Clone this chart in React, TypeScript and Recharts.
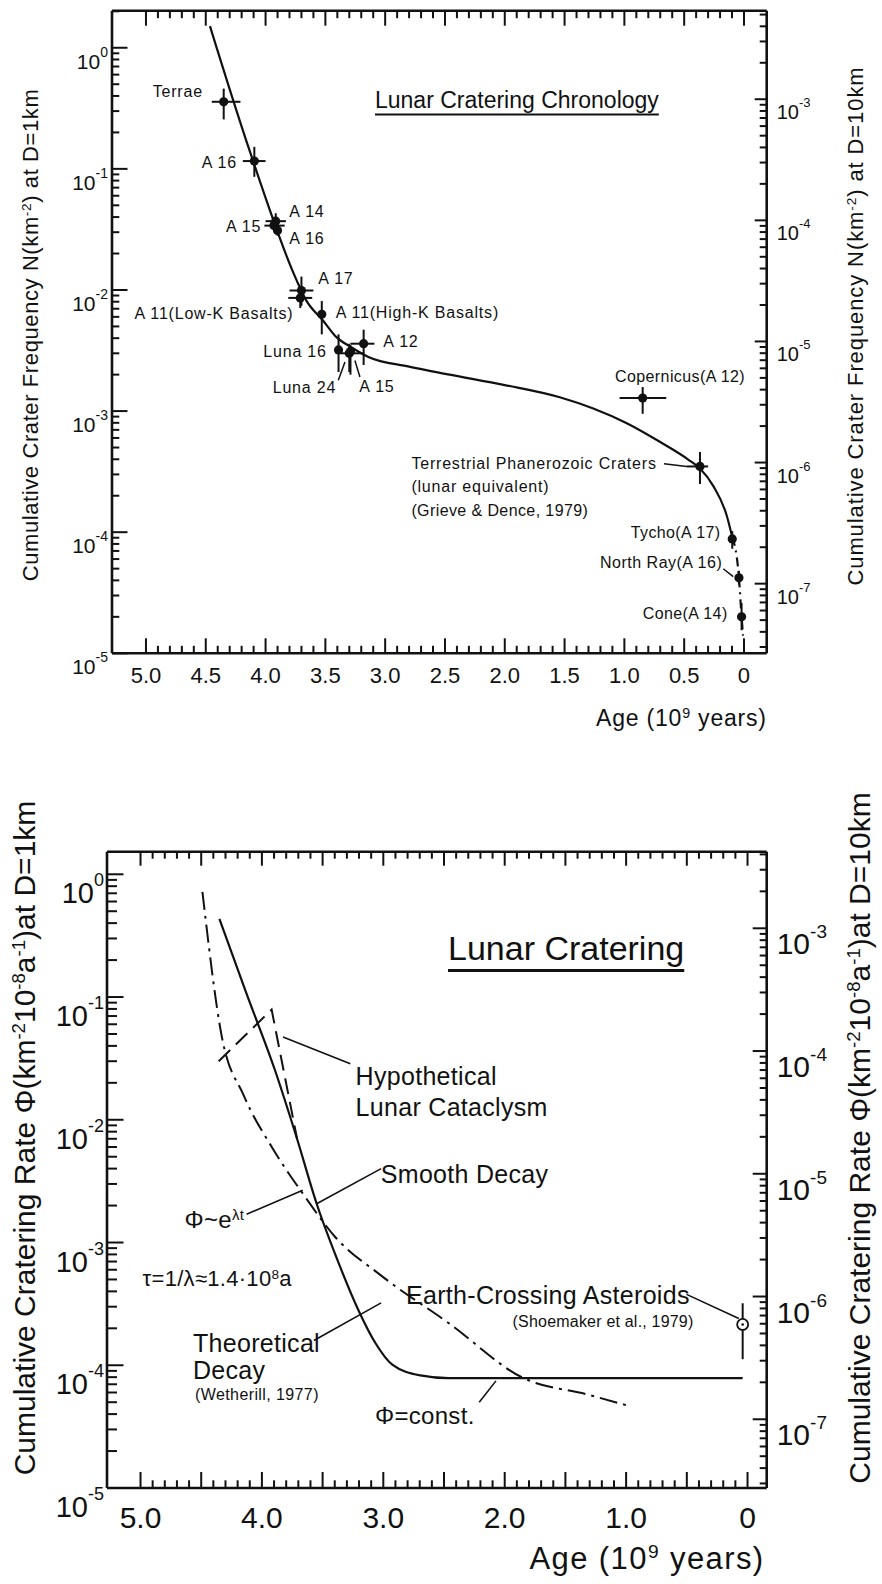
import React from 'react'
import { ComposedChart, Line, Scatter, ErrorBar, XAxis, YAxis, ReferenceLine } from 'recharts'

const FONT = '"Liberation Sans", Arial, sans-serif'
const INK = '#111'

// ---------- top panel: cumulative crater frequency N (km^-2) at D = 1 km ----------
const sampleNames = ['Terrae', 'A 16', 'A 14', 'A 15', 'A 16 b', 'A 17', 'A 11 low-K', 'A 11 high-K', 'Luna 16', 'Luna 24', 'A 15 b', 'A 12', 'Copernicus', 'Terrestrial', 'Tycho', 'North Ray', 'Cone']
const sampleAge = [4.35, 4.094, 3.915, 3.93, 3.9, 3.7, 3.71, 3.53, 3.39, 3.3, 3.29, 3.18, 0.847, 0.368, 0.098, 0.042, 0.02]
const sampleAgeMin = [4.21, 4.0, 3.83, 3.84, 3.9, 3.6, 3.61, 3.53, 3.39, 3.18, 3.29, 3.09, 0.65, 0.3, 0.098, 0.042, 0.02]
const sampleAgeMax = [4.45, 4.19, 4.0, 4.01, 3.9, 3.8, 3.81, 3.53, 3.39, 3.375, 3.29, 3.29, 1.04, 0.48, 0.098, 0.042, 0.02]
const sampleN = [0.358, 0.116, 0.037, 0.034, 0.031, 0.0099, 0.0086, 0.0063, 0.0032, 0.003, 0.0031, 0.0036, 0.00128, 0.000349, 0.000088, 0.000042, 0.00002]
const sampleNLo = [0.256, 0.086, 0.03, 0.034, 0.028, 0.0074, 0.0071, 0.0043, 0.0021, 0.0021, 0.002, 0.0024, 0.00095, 0.00025, 0.000073, 0.000037, 0.0000155]
const sampleNHi = [0.46, 0.152, 0.043, 0.034, 0.035, 0.0129, 0.01, 0.0081, 0.0043, 0.0036, 0.0035, 0.0047, 0.00158, 0.00046, 0.000102, 0.000048, 0.000026]

const chronoCurveAge = [4.465, 4.13, 3.74, 3.66, 3.52, 3.41, 3.29, 3.14, 2.8, 2.46, 2.0, 1.54, 1.26, 0.98, 0.7, 0.466, 0.368, 0.256, 0.145, 0.098]
const chronoCurveN = [1.51, 0.138, 0.012, 0.0082, 0.0056, 0.0041, 0.0034, 0.0028, 0.00233, 0.002, 0.00164, 0.0013, 0.00105, 0.000794, 0.000555, 0.000398, 0.000335, 0.00024, 0.000138, 0.0000912]
const chronoTailAge = [0.098, 0.042, 0.02, 0.008]
const chronoTailN = [0.0000912, 0.000042, 0.00002, 0.000014]

// ---------- bottom panel: cratering rate ----------
const smoothAge = [4.35, 4.126, 3.895, 3.71, 3.549, 3.387, 3.202, 3.064, 2.926, 2.695, 2.464, 0.04]
const smoothRate = [0.433, 0.106, 0.0258, 0.00697, 0.00207, 0.00076, 0.000277, 0.000151, 0.000101, 0.0000826, 0.0000785, 0.0000785]
const cataclysmAge = [4.356, 3.92, 3.71]
const cataclysmRate = [0.03, 0.079, 0.00697]
const theoryAge = [4.49, 4.33, 4.15, 3.9, 3.65, 3.4, 3.02, 2.46, 1.85, 1.31, 0.99]
const theoryRate = [0.72, 0.0474, 0.0158, 0.0056, 0.0024, 0.00112, 0.00054, 0.00022, 0.000079, 0.0000575, 0.000047]
const asteroidAge = [0.04]
const asteroidRate = [0.000215]
const asteroidLo = [0.000112]
const asteroidHi = [0.00032]

// leader lines [age, value] pairs
const topLeaders = [
  [[3.392, 0.0018], [3.336, 0.00254]],
  [[3.211, 0.00191], [3.253, 0.00262]],
  [[0.669, 0.000367], [0.479, 0.000349]],
  [[0.173, 0.0000499], [0.09, 0.000043]],
]
const bottomLeaders = [
  [[3.826, 0.0472], [3.272, 0.0286]],
  [[3.549, 0.00207], [3.018, 0.004]],
  [[4.126, 0.0017], [3.664, 0.00267]],
  [[3.572, 0.000159], [3.018, 0.000322]],
  [[2.21, 0.00005], [2.072, 0.0000746]],
  [[0.502, 0.000378], [0.072, 0.00024]],
]

const topLabelAges = [5, 4.5, 4, 3.5, 3, 2.5, 2, 1.5, 1, 0.5, 0]
const bottomLabelAges = [5, 4, 3, 2, 1, 0]

const minorAges = Array.from({ length: 51 }, (_, i) => Math.round(i) / 10)

const logTicks = (lo: number, hi: number) => {
  const out: number[] = []
  for (let e = -9; e <= 1; e++) for (let m = 1; m < 10; m++) {
    const v = m * Math.pow(10, e)
    if (v >= lo * 0.999 && v <= hi * 1.001) out.push(v)
  }
  return out
}

const zip = (age: number[], vals: number[]) => age.map((a, i) => ({ age: a, n: vals[i] }))

const samples = sampleNames.map((name, i) => ({
  name,
  age: sampleAge[i],
  n: sampleN[i],
  xErr: [sampleAge[i] - sampleAgeMin[i], sampleAgeMax[i] - sampleAge[i]],
  yErr: [sampleN[i] - sampleNLo[i], sampleNHi[i] - sampleN[i]],
}))
const asteroids = asteroidAge.map((a, i) => ({
  age: a,
  n: asteroidRate[i],
  yErr: [asteroidRate[i] - asteroidLo[i], asteroidHi[i] - asteroidRate[i]],
}))

const TOP_N = [1e-5, Math.pow(10, 0.306)]
const TOP_N10 = [Math.pow(10, -7.575), Math.pow(10, -2.269)]
const TOP_AGE = [-0.19, 5.284]
const BOT_N = [1e-5, Math.pow(10, 0.184)]
const BOT_N10 = [Math.pow(10, -7.56), Math.pow(10, -2.376)]
const BOT_AGE = [-0.158, 5.276]

const isDecade = (v: number) => {
  const l = Math.log10(v)
  return Math.abs(l - Math.round(l)) < 1e-6
}

type YT = { major: number; minor: number; fs: number; sfs: number; dx: number; dy: number; sdy: number }
const yTick = (side: 'left' | 'right', o: YT) => (p: any) => {
  const v = p.payload.value
  const dec = isDecade(v)
  const dir = side === 'left' ? 1 : -1
  const e = Math.round(Math.log10(v))
  return (
    <g>
      <line x1={p.x} y1={p.y} x2={p.x + dir * (dec ? o.major : o.minor)} y2={p.y} stroke={INK} strokeWidth={2} />
      {dec && (
        <text x={side === 'left' ? p.x - o.dx : p.x + o.dx} y={p.y + o.dy} textAnchor={side === 'left' ? 'end' : 'start'} fontSize={o.fs} fontFamily={FONT} fill={INK}>
          <tspan>10</tspan>
          <tspan dy={o.sdy} fontSize={o.sfs}>{e === 0 ? '0' : String(e)}</tspan>
        </text>
      )}
    </g>
  )
}

type XT = { major: number; minor: number; fs: number; dy: number; labels: number[] | null; fmt: (v: number) => string }
const xTick = (side: 'top' | 'bottom', o: XT) => (p: any) => {
  const v = p.payload.value
  const maj = Math.abs(v * 2 - Math.round(v * 2)) < 1e-6
  const dir = side === 'bottom' ? -1 : 1
  const lab = o.labels && o.labels.some((l) => Math.abs(l - v) < 1e-6)
  return (
    <g>
      <line x1={p.x} y1={p.y} x2={p.x} y2={p.y + dir * (maj ? o.major : o.minor)} stroke={INK} strokeWidth={2} />
      {lab && (
        <text x={p.x} y={p.y + o.dy} textAnchor="middle" fontSize={o.fs} fontFamily={FONT} fill={INK}>
          {o.fmt(v)}
        </text>
      )}
    </g>
  )
}

const dot = (r: number) => (p: any) => <circle cx={p.cx} cy={p.cy} r={r} fill={INK} />
const openDot = (p: any) => (
  <g>
    <circle cx={p.cx} cy={p.cy} r={5.5} fill="#fff" stroke={INK} strokeWidth={1.8} />
    <circle cx={p.cx} cy={p.cy} r={1.3} fill={INK} />
  </g>
)

const Note = ({ x, y, size = 16, ls = 0.8, anchor = 'start', style, children }: any) => (
  <div
    style={{
      position: 'absolute',
      left: x,
      top: y,
      transform: `translate(${anchor === 'end' ? '-100%' : '0'}, -50%)`,
      fontSize: size,
      letterSpacing: ls,
      whiteSpace: 'nowrap',
      lineHeight: 1,
      ...style,
    }}
  >
    {children}
  </div>
)

const VTitle = ({ x, y, size, ls = 0, children }: any) => (
  <div
    style={{
      position: 'absolute',
      left: x,
      top: y,
      transform: 'translate(-50%, -50%) rotate(-90deg)',
      fontSize: size,
      letterSpacing: ls,
      whiteSpace: 'nowrap',
      lineHeight: 1,
    }}
  >
    {children}
  </div>
)

const frame = { stroke: INK, strokeWidth: 2.6 }
const sup = (s: string, f = 0.62) => <sup style={{ fontSize: `${f}em`, verticalAlign: '0.55em', lineHeight: 0 }}>{s}</sup>

export default function App() {
  const fmt = (v: number) => (v === 0 ? '0' : v.toFixed(1))
  return (
    <div style={{ position: 'absolute', left: 0, top: 0, width: 882, height: 1584, background: '#fff', fontFamily: FONT, color: INK }}>
      <div style={{ position: 'absolute', left: 0, top: 0 }}>
        <ComposedChart width={882} height={740} margin={{ top: 9.7, right: 55.3, bottom: 46.7, left: 52 }}>
          <XAxis xAxisId="bottom" dataKey="age" type="number" domain={TOP_AGE} reversed allowDataOverflow ticks={minorAges} interval={0} tickSize={0} tickMargin={0} tickLine={false} axisLine={frame} height={40}
            tick={xTick('bottom', { major: 15, minor: 7.5, fs: 22, dy: 30, labels: topLabelAges, fmt })} />
          <XAxis xAxisId="top" orientation="top" dataKey="age" type="number" domain={TOP_AGE} reversed allowDataOverflow ticks={minorAges} interval={0} tickSize={0} tickMargin={0} tickLine={false} axisLine={frame} height={1}
            tick={xTick('top', { major: 15, minor: 7.5, fs: 22, dy: 0, labels: null, fmt })} />
          <YAxis yAxisId="left" type="number" scale="log" domain={TOP_N} allowDataOverflow ticks={logTicks(TOP_N[0], TOP_N[1])} interval={0} tickSize={0} tickMargin={0} tickLine={false} axisLine={frame} width={60}
            tick={yTick('left', { major: 15.5, minor: 7.3, fs: 21, sfs: 14, dx: 4, dy: 21, sdy: -12 })} />
          <YAxis yAxisId="right" orientation="right" type="number" scale="log" domain={TOP_N10} allowDataOverflow ticks={logTicks(TOP_N10[0], TOP_N10[1])} interval={0} tickSize={0} tickMargin={0} tickLine={false} axisLine={frame} width={60}
            tick={yTick('right', { major: 12, minor: 7, fs: 20, sfs: 13, dx: 10, dy: 20, sdy: -12 })} />
          <Line xAxisId="bottom" yAxisId="left" data={zip(chronoCurveAge, chronoCurveN)} dataKey="n" type="monotone" stroke={INK} strokeWidth={2.2} dot={false} activeDot={false} isAnimationActive={false} />
          <Line xAxisId="bottom" yAxisId="left" data={zip(chronoTailAge, chronoTailN)} dataKey="n" type="monotone" stroke={INK} strokeWidth={2.2} strokeDasharray="9 5 2 5" dot={false} activeDot={false} isAnimationActive={false} />
          <Scatter xAxisId="bottom" yAxisId="left" data={samples} dataKey="n" shape={dot(4.6)} isAnimationActive={false}>
            <ErrorBar dataKey="xErr" direction="x" width={0} stroke={INK} strokeWidth={2} />
            <ErrorBar dataKey="yErr" direction="y" width={0} stroke={INK} strokeWidth={2} />
          </Scatter>
          {topLeaders.map((s, i) => (
            <ReferenceLine key={i} xAxisId="bottom" yAxisId="left" segment={[{ x: s[0][0], y: s[0][1] }, { x: s[1][0], y: s[1][1] }]} stroke={INK} strokeWidth={1.5} />
          ))}
        </ComposedChart>
      </div>

      <div style={{ position: 'absolute', left: 0, top: 740 }}>
        <ComposedChart width={882} height={844} margin={{ top: 110.7, right: 55.3, bottom: 56, left: 47 }}>
          <XAxis xAxisId="bottom" dataKey="age" type="number" domain={BOT_AGE} reversed allowDataOverflow ticks={minorAges} interval={0} tickSize={0} tickMargin={0} tickLine={false} axisLine={frame} height={40}
            tick={xTick('bottom', { major: 16, minor: 7.7, fs: 30, dy: 40, labels: bottomLabelAges, fmt })} />
          <XAxis xAxisId="top" orientation="top" dataKey="age" type="number" domain={BOT_AGE} reversed allowDataOverflow ticks={minorAges} interval={0} tickSize={0} tickMargin={0} tickLine={false} axisLine={frame} height={1}
            tick={xTick('top', { major: 14, minor: 7, fs: 30, dy: 0, labels: null, fmt })} />
          <YAxis yAxisId="left" type="number" scale="log" domain={BOT_N} allowDataOverflow ticks={logTicks(BOT_N[0], BOT_N[1])} interval={0} tickSize={0} tickMargin={0} tickLine={false} axisLine={frame} width={60}
            tick={yTick('left', { major: 16.5, minor: 10, fs: 29, sfs: 18, dx: 3, dy: 29, sdy: -17 })} />
          <YAxis yAxisId="right" orientation="right" type="number" scale="log" domain={BOT_N10} allowDataOverflow ticks={logTicks(BOT_N10[0], BOT_N10[1])} interval={0} tickSize={0} tickMargin={0} tickLine={false} axisLine={frame} width={60}
            tick={yTick('right', { major: 14, minor: 7, fs: 30, sfs: 19, dx: 10, dy: 26, sdy: -16 })} />
          <Line xAxisId="bottom" yAxisId="left" data={zip(theoryAge, theoryRate)} dataKey="n" type="monotone" stroke={INK} strokeWidth={2} strokeDasharray="18 6 3 6" dot={false} activeDot={false} isAnimationActive={false} />
          <Line xAxisId="bottom" yAxisId="left" data={zip(cataclysmAge, cataclysmRate)} dataKey="n" type="linear" stroke={INK} strokeWidth={2} strokeDasharray="16 8" dot={false} activeDot={false} isAnimationActive={false} />
          <Line xAxisId="bottom" yAxisId="left" data={zip(smoothAge, smoothRate)} dataKey="n" type="monotone" stroke={INK} strokeWidth={2.2} dot={false} activeDot={false} isAnimationActive={false} />
          <Scatter xAxisId="bottom" yAxisId="left" data={asteroids} dataKey="n" shape={openDot} isAnimationActive={false}>
            <ErrorBar dataKey="yErr" direction="y" width={0} stroke={INK} strokeWidth={2} />
          </Scatter>
          {bottomLeaders.map((s, i) => (
            <ReferenceLine key={i} xAxisId="bottom" yAxisId="left" segment={[{ x: s[0][0], y: s[0][1] }, { x: s[1][0], y: s[1][1] }]} stroke={INK} strokeWidth={1.6} />
          ))}
        </ComposedChart>
      </div>

      {/* top panel text */}
      <VTitle x={31} y={335} size={22} ls={0.6}>Cumulative Crater Frequency N(km{sup('-2')}) at D=1km</VTitle>
      <VTitle x={856} y={326} size={22} ls={0.9}>Cumulative Crater Frequency N(km{sup('-2')}) at D=10km</VTitle>
      <Note x={596} y={718} size={23}>Age (10{sup('9')} years)</Note>
      <Note x={375} y={100} size={23} ls={0} style={{ textDecoration: 'underline', textUnderlineOffset: 6, textDecorationThickness: 2 }}>Lunar Cratering Chronology</Note>
      <Note x={152.7} y={91.7}>Terrae</Note>
      <Note x={201.7} y={163.3}>A 16</Note>
      <Note x={226} y={226.7}>A 15</Note>
      <Note x={289.3} y={211.7}>A 14</Note>
      <Note x={289.3} y={239.3}>A 16</Note>
      <Note x={318.3} y={279.3}>A 17</Note>
      <Note x={293.5} y={313.5} anchor="end">A 11(Low-K Basalts)</Note>
      <Note x={335.7} y={313.3}>A 11(High-K Basalts)</Note>
      <Note x={263.3} y={351.7}>Luna 16</Note>
      <Note x={383.3} y={341.7}>A 12</Note>
      <Note x={272.7} y={388.3}>Luna 24</Note>
      <Note x={359.3} y={386.7}>A 15</Note>
      <Note x={615} y={376.7} ls={0.4}>Copernicus(A 12)</Note>
      <Note x={411.4} y={463.5}>Terrestrial Phanerozoic Craters</Note>
      <Note x={411.4} y={486.5}>(lunar equivalent)</Note>
      <Note x={411.4} y={510.5} ls={0.4}>(Grieve &amp; Dence, 1979)</Note>
      <Note x={630.7} y={533.3} ls={0.4}>Tycho(A 17)</Note>
      <Note x={600} y={563.3} ls={0.5}>North Ray(A 16)</Note>
      <Note x={642.7} y={614.3} ls={0.4}>Cone(A 14)</Note>

      {/* bottom panel text */}
      <VTitle x={25} y={1138} size={30}>Cumulative Cratering Rate Φ(km{sup('-2')}10{sup('-8')}a{sup('-1')})at D=1km</VTitle>
      <VTitle x={860} y={1138} size={30}>Cumulative Cratering Rate Φ(km{sup('-2')}10{sup('-8')}a{sup('-1')})at D=10km</VTitle>
      <Note x={529.5} y={1558} size={31} ls={1.4}>Age (10{sup('9')} years)</Note>
      <Note x={448} y={948.4} size={34} ls={0} style={{ textDecoration: 'underline', textUnderlineOffset: 9, textDecorationThickness: 2.5 }}>Lunar Cratering</Note>
      <Note x={355.6} y={1075.7} size={25} ls={0.3}>Hypothetical</Note>
      <Note x={355.6} y={1106.8} size={25} ls={0.3}>Lunar Cataclysm</Note>
      <Note x={380.8} y={1174} size={25} ls={0.3}>Smooth Decay</Note>
      <Note x={184.5} y={1219.6} size={24} ls={0.3}>Φ~e{sup('λt')}</Note>
      <Note x={142.5} y={1278.7} size={22} ls={0.3}>τ=1/λ≈1.4·10{sup('8')}a</Note>
      <Note x={406} y={1294.8} size={25} ls={0.3}>Earth-Crossing Asteroids</Note>
      <Note x={512.6} y={1321.6} size={16} ls={0.2}>(Shoemaker et al., 1979)</Note>
      <Note x={193} y={1343} size={25} ls={0.3}>Theoretical</Note>
      <Note x={193} y={1370} size={25} ls={0.3}>Decay</Note>
      <Note x={195} y={1395} size={16} ls={0.4}>(Wetherill, 1977)</Note>
      <Note x={375} y={1415.6} size={24} ls={0.3}>Φ=const.</Note>
    </div>
  )
}
